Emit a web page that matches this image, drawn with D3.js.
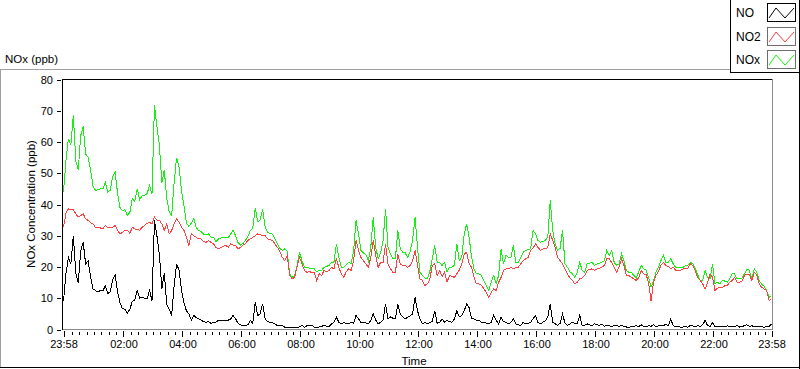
<!DOCTYPE html>
<html><head><meta charset="utf-8">
<script src="https://cdn.jsdelivr.net/npm/d3@7"></script>
<style>
body{margin:0;background:#fff}
svg{display:block}
text{font-family:"Liberation Sans",Arial,sans-serif;fill:#000}
</style>
</head><body>
<svg id="c" width="800" height="369"></svg>
<script>
// ---------- data ----------
const chartTitle = "NOx (ppb)";
const yTitle = "NOx Concentration (ppb)";
const xTitle = "Time";
const seriesNames = ["NO", "NO2", "NOx"];
const startTime = "23:58";
const sampleMinutes = 5;

// NO (ppb), one value every 5 minutes from 23:58 (12 per row = 1 hour)
const NO = [
9,18,23,21,30,18,15,25,28,21,22,17,
13,12.5,12,12.5,12.3,14,11.5,12,16,17.5,12,8.5,
6.6,6.5,5.2,6.5,9,9.5,12.5,10,10.3,10,9.8,12.5,
9.3,35,30,24,13,18,8,6.5,4.5,14,21,19,
12.5,8.5,6,5,3,4.5,3.8,3.4,3,2.5,2.3,2.5,
2,2.2,2.3,2.9,3,2.8,2.9,3,3.4,4.5,3.4,2,
1.5,1.3,1.3,1.5,2.9,2,8.7,4.5,5,8.2,3.4,2.5,
2.3,2.2,1.8,1.2,1.3,1.3,0.7,0.6,0.7,0.6,0.5,0.7,
0.8,1.3,0.7,1.2,1.3,1.3,0.8,0.7,0.8,1,1.3,1.1,
1,1.8,2.3,4,2.3,1.8,2.3,1.9,1.8,2.3,2,4.5,
3.4,2.3,2.3,2.1,1.8,2.9,5,3,1.8,2.3,3,8.2,
3.4,4,3.6,3.4,8.2,5,4,3.4,4,4.3,5,10.3,
6,3.4,1.8,2.3,1.8,2.3,2.5,6,2,2.3,3.4,2.3,
2.9,2.5,2.3,3.4,6,4,4.5,6,8.2,7,3.4,3.4,
3,2.9,2.3,2.3,2,1.8,2.3,4.5,3,1.8,4,2.5,
2.3,1.8,2.3,3.4,1.8,1.5,1.3,2.3,1.8,2,2.3,3.4,
4.5,2.3,1.8,2.3,2.8,4,8.2,2.3,1.8,1.3,2,5,
2,1.3,1.8,2.3,2,1.8,4.5,1.3,1.3,1.8,1.5,1.3,
1.8,1.5,1.3,1.8,1,1.3,1.2,1,1.3,1.2,1,1.3,
1,0.8,0.7,1,1,1.2,0.9,1.5,1,0.8,1.2,1,
1.5,0.8,1.2,1.4,1.3,1.6,1.2,3.4,1.2,0.8,1,0.7,
0.8,0.9,0.7,1.3,1.2,0.8,1.3,1,1.5,2.9,1.2,1,
2.2,0.8,1,0.9,1,0.8,1.2,0.9,1,0.8,1.3,0.8,
1,1.2,1.5,1,1.2,0.9,1,0.8,1,0.7,0.9,1,
1.8
];

// NO2 (ppb)
const NO2 = [
32.7,37.2,38.6,38.5,38.3,37,36,36.5,37,35.4,34.9,34.2,
33.8,32.7,32.7,32.5,32.2,33.3,32.5,32.7,32.7,33.3,31.7,30.6,
31.1,31.7,31.7,30.8,32.7,32.2,32,31.8,32.7,33.3,34,34.3,
33.8,36,35,34.9,33.8,31.7,33.8,30.6,31.7,33.8,35.4,34.3,
32.7,31.7,29.5,26.9,30.6,30,29.5,29,29,28.2,27.9,28.5,
27.9,27.5,26.3,25.8,26.3,26.6,26.9,26.3,27.4,27,26.9,25.8,
26.3,27,27.4,28.5,29,29.5,30,30.6,30.3,30,30,29,
28.8,28.5,27.4,26.3,25,23.1,22,23.7,17.3,16.2,16.7,20,
23.1,21,18.9,18.3,18.5,18.3,18.3,15.7,17.8,17.3,18.9,18.5,
18.9,19.9,19.4,22.6,19.9,17.8,16.7,18.5,19.4,18.9,22,28.5,
25.3,23.1,22,21,19.9,23.1,28.5,23.7,19.9,21.5,21.5,27.4,
21,19.4,18.3,18.3,24.2,21,20.5,20.5,19.9,20.5,22,25.3,
20.5,16.2,15.7,14.1,14.6,16,20.5,21,17.3,18.9,17,18.3,
15.1,17.3,17,16.7,17.8,19,21,24.2,24.7,21,19.9,16.7,
14.6,14.6,14.1,13,11.8,10.3,11.9,13,12.5,15.1,16.7,18.9,
19.4,19.4,19.9,19.4,19.9,19.9,21,22,22.6,23.1,25.3,26,
27.4,26.3,25.3,25.8,25.8,26.3,30.6,28.5,26.3,23.1,22,21,
19.4,17.8,16.5,15.7,14.6,15.1,16.2,16.5,17.3,18.9,19.2,19.4,
18.9,19.4,19.6,19.9,20.5,22.6,22.6,21.5,19.9,18.3,20,22.6,
20.5,17.3,17.3,16.7,16.2,15.7,16.5,18.9,17.8,17.5,15.1,9,
15,17.3,18.6,20.5,21.5,20.5,20.2,19.4,20,18.9,18.9,19,
19.4,19.4,19.7,21,20.5,18.8,16.5,15.7,14.6,13,15,17.8,
16.7,12.5,13.2,13.5,13.5,14,14.1,15.1,15.7,16.7,15.1,15.1,
15.5,17.3,17.8,17.5,15.7,18.3,17.5,14.6,13.5,13,12.5,9.3,
9.8
];

// NOx (ppb)
const NOx = [
44,54,61,59,68.5,54,51,62,65,56.2,55.1,51,
46,44.5,44.7,45,45,47,44,44.5,49,50.5,43.5,39,
38,38.4,36.5,37.5,42,41,45,41.5,42.9,43,43.5,46,
43.4,71.7,65,59,47,51,42,37.5,36.5,47,55,52,
44.5,39.5,34,33,34,35.5,32.5,31.7,31.3,30.5,30.3,30.6,
29.5,29.5,28,29,29.3,29.4,29.5,29.3,30.6,31.7,30,27.8,
27,27.5,28.5,29.8,31.7,32.5,39,34.5,35,38.6,33,31,
30.8,30.5,29,27.5,26,25.3,25.8,25,17.8,16.7,17.3,20.5,
24.7,22,19.9,19.9,19.6,19.4,19.4,18.5,18.9,18.9,19.9,20.2,
20.5,21.5,21.5,27.4,23.1,19.9,19.9,20.8,21.5,21,25,34.9,
30.6,25.3,24.5,24,22,26.3,35.9,26.3,22.6,24.5,28.5,38.6,
26.3,24.2,22.6,22.6,31.7,25.8,24.7,24.5,23.1,25,28.5,35.9,
26.3,18.3,17.3,16.5,16.2,18.5,22.5,26.9,21.5,21.5,20.5,21.5,
18.3,19.9,19.9,20.5,27.4,22,23.1,30.6,33.8,29.5,23.1,19.4,
17.8,17.8,17.3,15.7,14,12.5,15.1,17.3,14.6,17.3,25.8,21,
23.7,23.1,23.1,26.9,21.5,21.5,23,24.7,25.3,25.5,25.8,31.7,
30.6,28.5,27.9,28.2,28.5,29.5,41.3,31.7,27.4,25.3,26,31.7,
21,19.9,18.5,17.8,16.7,18.3,21.5,18.9,18.3,21,21.2,21.5,
20.5,21,21.2,21.5,22,25.3,23.7,25.3,21.5,20.5,21,24.2,
22,18.9,18.3,18.3,17.3,16.5,18.5,20.5,19.4,19,16.7,13.5,
15.5,18.3,19.9,22,23.7,21.5,21.5,22.6,21,19.9,19.9,19.9,
19.9,20.5,20.5,21.5,21,19.5,17.5,15.7,15.7,18.9,16.5,16.2,
21,14.6,15.1,14.6,15.7,15.5,15.1,16.2,17.8,17.8,16.2,16.2,
16.5,17.8,19.4,18.9,16.2,19.4,18.5,15.7,14.5,13.8,12.5,10.3,
10.8
];

const xTickLabels = ["23:58","02:00","04:00","06:00","08:00","10:00","12:00","14:00","16:00","18:00","20:00","22:00","23:58"];
const yTicks = [0,10,20,30,40,50,60,70,80];

// ---------- styles ----------
const seriesColors = {NO:"#000000", NO2:"#ff4040", NOx:"#14f014"};
const FONT = 11;

// ---------- build ----------
const svg = d3.select("#c");
svg.append("rect").attr("width",800).attr("height",369).attr("fill","#fff");

const [sh, sm] = startTime.split(":").map(Number);
const t0 = new Date(2000,0,1,sh,sm);
const t1 = new Date(t0.getTime() + 86400000);
const timeOf = i => new Date(t0.getTime() + i*sampleMinutes*60000);

let prev = t0;
const xTickDates = xTickLabels.map(s => {
  const [h,m] = s.split(":").map(Number);
  let d = new Date(2000,0,1,h,m);
  while (d < prev) d = new Date(d.getTime()+86400000);
  prev = d; return d;
});

const x = d3.scaleTime().domain([t0,t1]).range([63.5,771.5]);
const y = d3.scaleLinear().domain([0,80]).range([329.5,79.5]);

// outer frame
const frame = svg.append("g").attr("shape-rendering","crispEdges");
frame.append("line").attr("x1",0).attr("x2",730).attr("y1",69.5).attr("y2",69.5).attr("stroke","#a0a0a0");
frame.append("line").attr("x1",0.5).attr("x2",0.5).attr("y1",69).attr("y2",368).attr("stroke","#a0a0a0");
frame.append("line").attr("x1",0).attr("x2",800).attr("y1",367.5).attr("y2",367.5).attr("stroke","#000");
frame.append("line").attr("x1",799.5).attr("x2",799.5).attr("y1",0).attr("y2",369).attr("stroke","#000");
frame.append("line").attr("x1",730.5).attr("x2",730.5).attr("y1",0).attr("y2",73).attr("stroke","#000");
frame.append("line").attr("x1",730).attr("x2",800).attr("y1",72.5).attr("y2",72.5).attr("stroke","#000");

// title
svg.append("text").attr("x",5).attr("y",63).attr("font-size",11.5).text(chartTitle);

// clip
svg.append("clipPath").attr("id","clip").append("rect")
  .attr("x",63).attr("y",79).attr("width",709).attr("height",251);

// series
const line = d3.line().x((d,i)=>x(timeOf(i))).y(d=>y(d));
const seriesData = {NO:NO, NO2:NO2, NOx:NOx};
const drawOrder = ["NOx","NO2","NO"];
const plot = svg.append("g").attr("clip-path","url(#clip)");
drawOrder.forEach(n=>{
  plot.append("path").datum(seriesData[n]).attr("d",line)
    .attr("fill","none").attr("stroke",seriesColors[n]).attr("stroke-width",1)
    .attr("stroke-linejoin","miter").attr("shape-rendering","crispEdges");
});

// plot frame
const pf = svg.append("g").attr("shape-rendering","crispEdges");
pf.append("line").attr("x1",62).attr("x2",773).attr("y1",79.5).attr("y2",79.5).attr("stroke","#000");
pf.append("line").attr("x1",62.5).attr("x2",62.5).attr("y1",79).attr("y2",330).attr("stroke","#000");
pf.append("line").attr("x1",772.5).attr("x2",772.5).attr("y1",79).attr("y2",330).attr("stroke","#8a8a8a");
pf.append("line").attr("x1",63).attr("x2",773).attr("y1",329.5).attr("y2",329.5).attr("stroke","#8a8a8a");

// y axis
const yAxis = svg.append("g").attr("transform","translate(61,0)")
  .call(d3.axisLeft(y).tickValues(yTicks).tickSize(4).tickPadding(4).tickFormat(d3.format("d")));
yAxis.select(".domain").remove();
yAxis.selectAll("line").attr("stroke","#000").attr("shape-rendering","crispEdges");
yAxis.selectAll("text").attr("font-size",FONT).attr("font-family","Liberation Sans, Arial, sans-serif").attr("fill","#000");

// x axis majors
const xAxis = svg.append("g").attr("transform","translate(0,331)")
  .call(d3.axisBottom(x).tickValues(xTickDates).tickSize(6).tickPadding(3)
    .tickFormat((d,i)=>xTickLabels[i]));
xAxis.select(".domain").remove();
xAxis.selectAll("line").attr("stroke","#000").attr("shape-rendering","crispEdges");
xAxis.selectAll("text").attr("font-size",FONT).attr("font-family","Liberation Sans, Arial, sans-serif").attr("fill","#000");

// x axis minors (quarter hours)
const majorSet = new Set(xTickDates.map(d=>+d));
const minor = d3.timeMinute.every(15).range(t0,t1)
  .filter(d => !majorSet.has(+d) && (d - t0) > 5*60000 && (t1 - d) > 5*60000);
const xMinor = svg.append("g").attr("transform","translate(0,332)")
  .call(d3.axisBottom(x).tickValues(minor).tickSize(3).tickFormat(""));
xMinor.select(".domain").remove();
xMinor.selectAll("line").attr("stroke","#000").attr("shape-rendering","crispEdges");

// axis titles
svg.append("text").attr("transform","translate(35,204) rotate(-90)")
  .attr("text-anchor","middle").attr("font-size",11.5).text(yTitle);
svg.append("text").attr("x",414).attr("y",365).attr("text-anchor","middle")
  .attr("font-size",11.5).text(xTitle);

// legend
const swTop = [3,27,50];
const legend = svg.append("g");
seriesNames.forEach((n,i)=>{
  const g = legend.append("g").attr("transform",`translate(0,${swTop[i]})`);
  g.append("text").attr("x",736).attr("y",14).attr("font-size",12).text(n);
  g.append("rect").attr("x",767.5).attr("y",0.5).attr("width",28).attr("height",18)
    .attr("fill","#fff").attr("stroke", i===0 ? "#000" : "#6e6e6e").attr("shape-rendering","crispEdges");
  g.append("polyline").attr("points","769,15 776,5 785,15 794,5")
    .attr("fill","none").attr("stroke",seriesColors[n]).attr("stroke-width",1);
});
</script>
</body></html>
